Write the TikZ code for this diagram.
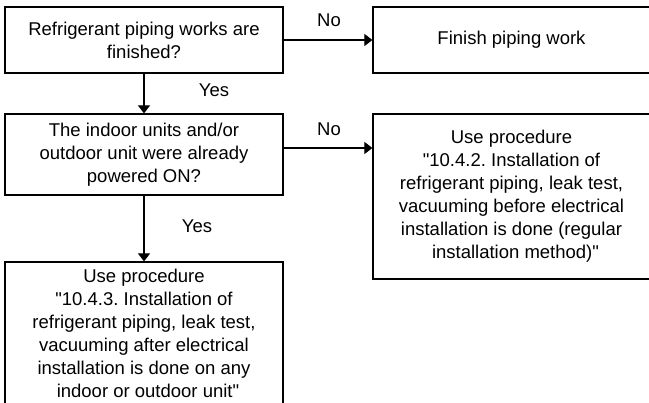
\documentclass[tikz,border=0pt]{standalone}
\usepackage{fontspec}
\setmainfont{Liberation Sans}[Ligatures=TeXOff]
\frenchspacing
\usetikzlibrary{arrows.meta}
\begin{document}
\begin{tikzpicture}[x=1pt,y=-1pt,
  box/.style={draw, line width=1.2pt, inner sep=0pt, align=center,
    font=\fontsize{18.5}{23}\selectfont},
  lbl/.style={inner sep=0pt, font=\fontsize{18.5}{23}\selectfont},
  arr/.style={line width=1.1pt, -{Triangle[width=12pt,length=8pt]}}]
\useasboundingbox (0,0) rectangle (649,403);
\node[box, minimum width=278pt, minimum height=66pt] (q1) at (144,40)
  {Refrigerant piping works are\\finished?};
\node[box, minimum width=277pt, minimum height=66pt] (fin) at (511.5,40)
  {Finish piping work};
\node[box, minimum width=278pt, minimum height=81pt] (q2) at (144,154.5)
  {The indoor units and/or\\outdoor unit were already\\powered ON?};
\node[box, minimum width=277pt, minimum height=165pt] (p2) at (511.5,196.5)
  {Use procedure\\"10.4.2. Installation of\\refrigerant piping, leak test,\\vacuuming before electrical\\installation is done (regular\\\hspace*{8pt}installation method)"};
\node[box, minimum width=278pt, minimum height=142pt] (p3) at (144,333)
  {Use procedure\\"10.4.3. Installation of\\refrigerant piping, leak test,\\vacuuming after electrical\\installation is done on any\\\hspace*{8pt}indoor or outdoor unit"};
\draw[arr] (q1.south) -- (q2.north);
\draw[arr] (q1.east) -- (fin.west);
\draw[arr] ([yshift=6.5pt]q2.east) -- ([yshift=6.5pt]q2.east -| p2.west);
\draw[arr] (q2.south) -- (q2.south |- p3.north);
\node[lbl] (no1) at (329,20) {No};
\node[lbl] (yes1) at (214,90) {Yes};
\node[lbl] (no2) at (329,129) {No};
\node[lbl] (yes2) at (197,226) {Yes};
\end{tikzpicture}
\end{document}
